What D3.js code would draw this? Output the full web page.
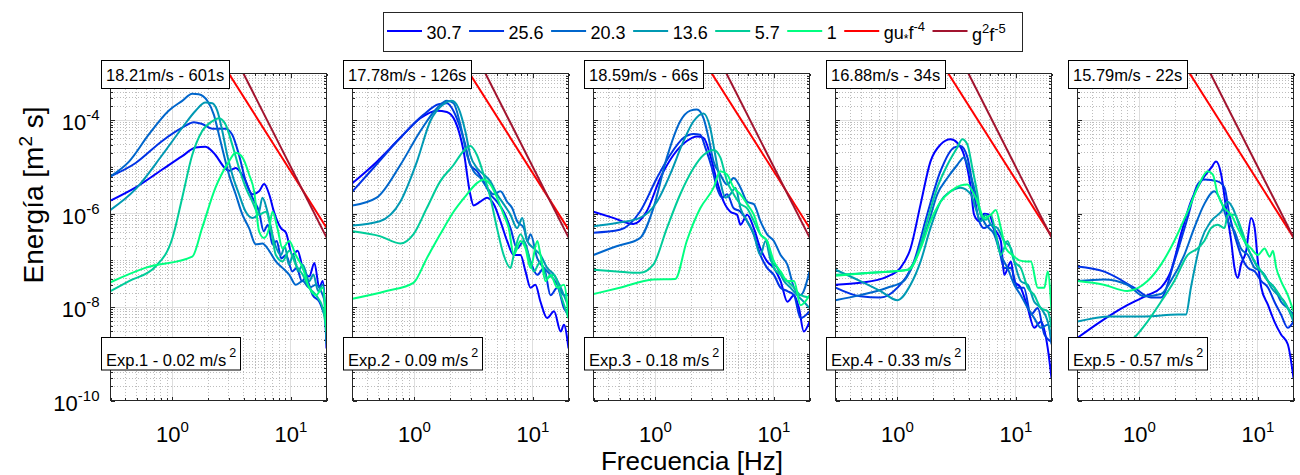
<!DOCTYPE html>
<html><head><meta charset="utf-8">
<script src="https://cdn.jsdelivr.net/npm/d3@7"></script>
<style>
body{margin:0;background:#fff}
svg{display:block}
text{font-family:"Liberation Sans",Arial,Helvetica,sans-serif;fill:#000}
</style>
</head><body>
<svg id="chart" width="1300" height="475"></svg>
<script>
// ---------------- DATA ----------------
const seriesLabels = ["30.7","25.6","20.3","13.6","5.7","1"];
const seriesColors = ["#0000ff","#0033e6","#0066cc","#0099b3","#00cc99","#00ff80"];
const panelTitles = ["18.21m/s - 601s","17.78m/s - 126s","18.59m/s - 66s","16.88m/s - 34s","15.79m/s - 22s"];
const expLabels = ["Exp.1 - 0.02 m/s","Exp.2 - 0.09 m/s","Exp.3 - 0.18 m/s","Exp.4 - 0.33 m/s","Exp.5 - 0.57 m/s"];
const xTickValues = [1, 10];
const xTickExps = ["0","1"];
const yTickValues = [1e-10, 1e-8, 1e-6, 1e-4];
const yTickExps = ["-10","-8","-6","-4"];
// reference lines [f, E] end points per panel
const redLineEnds = [
  [[2.5,2.05e-3],[20,5.0e-7]],
  [[2.5,1.87e-3],[20,4.6e-7]],
  [[2.5,2.05e-3],[20,5.0e-7]],
  [[2.5,1.34e-3],[20,3.3e-7]],
  [[2.5,1.28e-3],[20,3.1e-7]]
];
const darkRedLineEnds = [[3.0,4.1e-3],[20,3.1e-7]];

// Exp.1  [frequency Hz, energy m^2 s]
const e1_30_7 = [[0.30,1.9e-6],[0.486,3.6e-6],[0.82,8.8e-6],[1.21,1.7e-5],[1.57,2.6e-5],[1.90,2.7e-5],[2.31,1.8e-5],[2.72,1.0e-5],[3.0,8.3e-6],[3.42,9.5e-6],[4.03,5.8e-6],[4.74,2.6e-6],[5.39,3.0e-6],[5.95,4.3e-6],[6.56,2.6e-6],[7.2,1.1e-6],[8.25,4.9e-7],[9.1,3.9e-7],[10.3,1.3e-7],[11.4,1.6e-7],[12.6,6.9e-8],[14.3,4.5e-8],[15.8,8.8e-8],[17.4,2.6e-8],[18.6,3.6e-8],[20,1.3e-9]];
const e1_25_6 = [[0.30,6.3e-6],[0.486,1.2e-5],[0.82,3.6e-5],[1.21,6.9e-5],[1.52,9.1e-5],[1.78,8.3e-5],[2.17,6.6e-5],[2.81,6.6e-5],[3.2,4.9e-5],[3.65,1.8e-5],[4.16,4.9e-6],[4.74,2.2e-6],[5.39,1.1e-6],[5.9,4.2e-7],[6.4,5.8e-7],[7.0,2.2e-7],[7.6,2.6e-7],[8.3,1.1e-7],[9.1,1.3e-7],[10.3,5.8e-8],[11.2,6.9e-8],[12.4,3.6e-8],[13.4,4.2e-8],[15.3,1.8e-8],[17.4,1.3e-8],[20,4.9e-9]];
const e1_20_3 = [[0.30,6.3e-6],[0.43,1.3e-5],[0.63,4.9e-5],[0.93,1.6e-4],[1.21,2.6e-4],[1.47,3.7e-4],[1.67,3.6e-4],[1.97,2.6e-4],[2.24,1.3e-4],[2.47,4.9e-5],[2.72,1.8e-5],[3.0,6.9e-6],[3.42,2.6e-6],[3.9,9.5e-7],[4.44,4.9e-7],[5.05,2.2e-7],[5.75,2.3e-7],[6.56,1.6e-7],[7.47,9.5e-8],[8.5,6.9e-8],[9.7,4.9e-8],[11.0,3.0e-8],[12.6,3.6e-8],[14.3,2.6e-8],[16.3,3.0e-8],[18.6,1.8e-8],[20,1.0e-8]];
const e1_13_6 = [[0.30,1.2e-6],[0.486,3.3e-6],[0.82,1.8e-5],[1.21,6.9e-5],[1.57,1.6e-4],[1.90,2.4e-4],[2.17,2.3e-4],[2.39,1.6e-4],[2.64,5.8e-5],[2.9,1.8e-5],[3.2,6.9e-6],[3.65,2.6e-6],[4.16,1.1e-6],[4.74,8.1e-7],[5.39,1.1e-6],[5.75,2.2e-6],[6.35,1.1e-6],[7.2,2.6e-7],[8.25,1.3e-7],[8.9,2.0e-7],[9.6,8.1e-8],[10.5,1.3e-7],[11.5,5.8e-8],[12.6,8.1e-8],[14.3,3.6e-8],[15.5,5.0e-8],[17.0,2.2e-8],[18.6,3.0e-8],[20,1.6e-9]];
const e1_5_7 = [[0.30,2.2e-8],[0.43,3.6e-8],[0.72,7.4e-8],[1.0,3.0e-7],[1.21,2.2e-6],[1.47,1.8e-5],[1.78,5.8e-5],[2.17,9.5e-5],[2.47,1.1e-4],[2.81,8.1e-5],[3.2,3.0e-5],[3.65,9.5e-6],[4.16,3.6e-6],[4.74,1.8e-6],[5.39,9.5e-7],[6.15,1.1e-6],[6.77,4.9e-7],[7.47,1.3e-7],[8.5,9.5e-8],[9.7,1.6e-7],[11.0,8.1e-8],[12.6,4.9e-8],[14.3,2.6e-8],[16.3,1.8e-8],[18.6,9.5e-9],[20,3.0e-9]];
const e1_1 = [[0.30,3.4e-8],[0.59,6.9e-8],[1.47,1.2e-7],[1.78,4.9e-7],[2.31,3.6e-6],[3.0,1.3e-5],[3.42,2.0e-5],[3.9,1.6e-5],[4.44,6.9e-6],[4.9,3.0e-6],[5.39,4.2e-7],[5.95,3.0e-7],[6.56,4.9e-7],[7.0,1.1e-6],[7.7,4.9e-7],[8.5,1.8e-7],[9.7,2.6e-7],[11.0,1.3e-7],[12.6,6.9e-8],[14.3,2.6e-8],[16.3,1.8e-8],[18.6,2.6e-8],[20,3.0e-9]];

// Exp.2
const e2_30_7 = [[0.30,4.5e-6],[0.45,1.1e-5],[0.76,4.2e-5],[1.12,1.1e-4],[1.55,1.6e-4],[1.88,1.5e-4],[2.21,9.5e-5],[2.6,2.2e-5],[2.96,2.6e-6],[3.16,1.5e-6],[3.6,1.8e-6],[4.1,2.2e-6],[4.67,1.6e-6],[5.32,6.9e-7],[6.06,2.6e-7],[6.9,1.3e-7],[7.86,1.3e-7],[8.67,5.8e-8],[9.55,2.6e-8],[10.5,3.0e-8],[11.6,1.3e-8],[13.2,5.8e-9],[15.1,8.1e-9],[17.2,3.0e-9],[18.3,4.2e-9],[20,1.3e-9]];
const e2_25_6 = [[0.30,3.0e-6],[0.45,9.5e-6],[0.76,4.2e-5],[1.19,1.3e-4],[1.6,2.2e-4],[1.88,2.3e-4],[2.28,1.1e-4],[2.69,3.0e-5],[2.96,1.1e-5],[3.37,8.1e-6],[3.84,4.9e-6],[4.38,2.6e-6],[4.98,1.8e-6],[5.67,1.1e-6],[6.47,4.9e-7],[7.37,1.8e-7],[8.39,2.6e-7],[9.55,9.5e-8],[10.9,4.9e-8],[12.4,6.9e-8],[14.1,1.8e-8],[16.1,2.6e-8],[18.3,9.5e-9],[20,6.9e-9]];
const e2_20_3 = [[0.30,1.5e-6],[0.48,2.2e-6],[0.76,1.1e-5],[1.12,5.8e-5],[1.55,1.8e-4],[1.88,2.6e-4],[2.14,2.3e-4],[2.44,8.1e-5],[2.78,1.8e-5],[3.16,8.1e-6],[3.6,5.8e-6],[4.1,3.6e-6],[4.67,2.6e-6],[5.32,3.0e-6],[6.06,1.8e-6],[6.7,1.3e-6],[7.37,6.9e-7],[8.39,4.9e-7],[9.0,2.6e-7],[9.55,3.6e-7],[10.9,1.1e-7],[12.4,6.9e-8],[14.1,4.9e-8],[16.1,3.0e-8],[18.3,1.8e-8],[20,1.8e-8]];
const e2_13_6 = [[0.30,5.6e-7],[0.51,6.9e-7],[0.76,1.8e-6],[1.05,1.3e-5],[1.36,9.5e-5],[1.76,2.2e-4],[2.07,2.6e-4],[2.36,1.8e-4],[2.69,5.8e-5],[2.96,1.8e-5],[3.37,9.5e-6],[3.84,6.9e-6],[4.38,4.9e-6],[4.98,2.6e-6],[5.67,1.6e-6],[6.47,9.5e-7],[7.37,4.9e-7],[8.14,8.1e-7],[8.96,2.6e-7],[10.2,1.8e-7],[11.6,1.3e-7],[13.2,6.9e-8],[15.1,4.9e-8],[17.2,2.6e-8],[20,1.0e-8]];
const e2_5_7 = [[0.30,4.2e-7],[0.51,3.3e-7],[0.76,2.3e-7],[0.98,3.6e-7],[1.27,1.3e-6],[1.65,4.9e-6],[2.14,1.1e-5],[2.6,2.2e-5],[2.96,2.8e-5],[3.37,1.8e-5],[3.84,6.9e-6],[4.38,2.2e-6],[4.98,4.9e-7],[5.67,1.3e-7],[6.47,6.9e-8],[6.9,1.3e-7],[7.86,3.6e-7],[8.96,1.6e-7],[10.2,5.8e-8],[11.6,9.5e-8],[13.2,4.2e-8],[15.1,4.9e-8],[17.2,1.8e-8],[20,5.8e-9]];
const e2_1 = [[0.30,1.5e-8],[0.58,2.2e-8],[0.98,3.3e-8],[1.27,1.1e-7],[1.65,3.6e-7],[2.14,1.1e-6],[2.78,2.6e-6],[3.37,4.5e-6],[3.84,5.4e-6],[4.38,4.2e-6],[4.98,2.2e-6],[5.67,9.5e-7],[6.26,4.9e-7],[6.9,1.3e-7],[7.86,2.6e-7],[8.67,1.8e-7],[9.55,6.9e-8],[10.9,2.6e-7],[11.6,1.3e-7],[12.8,3.6e-8],[14.1,4.9e-8],[16.1,2.6e-8],[18.3,3.0e-8],[20,5.8e-9]];

// Exp.3
const e3_30_7 = [[0.30,1.1e-6],[0.44,8.1e-7],[0.65,6.0e-7],[0.84,1.1e-6],[1.1,5.8e-6],[1.42,1.8e-5],[1.84,3.6e-5],[2.24,4.5e-5],[2.55,4.2e-5],[2.9,1.8e-5],[3.31,4.9e-6],[3.77,1.8e-6],[4.29,1.1e-6],[4.89,9.5e-7],[5.23,5.8e-7],[5.95,9.5e-7],[6.77,4.9e-7],[7.7,1.8e-7],[8.77,9.5e-8],[10.0,6.9e-8],[11.4,3.6e-8],[13.0,1.3e-8],[14.8,1.8e-8],[16.3,9.5e-9],[17.9,3.0e-9],[20,4.9e-9]];
const e3_25_6 = [[0.30,3.9e-7],[0.50,4.5e-7],[0.74,1.1e-6],[1.03,5.8e-6],[1.33,1.8e-5],[1.73,4.2e-5],[2.1,5.1e-5],[2.39,4.9e-5],[2.64,2.6e-5],[3.0,9.5e-6],[3.31,3.6e-6],[3.65,2.2e-6],[4.03,2.6e-6],[4.58,1.3e-6],[5.23,1.1e-6],[5.95,6.9e-7],[6.77,3.6e-7],[7.7,1.3e-7],[8.77,6.9e-8],[10.0,4.9e-8],[11.4,2.6e-8],[13.0,2.2e-8],[14.8,1.8e-8],[16.8,5.8e-9],[20,8.1e-9]];
const e3_20_3 = [[0.30,1.3e-7],[0.47,2.0e-7],[0.74,3.0e-7],[0.96,1.3e-6],[1.25,1.6e-5],[1.62,9.5e-5],[1.97,1.6e-4],[2.24,1.7e-4],[2.55,1.1e-4],[2.81,4.2e-5],[3.1,1.3e-5],[3.53,6.9e-6],[4.03,4.2e-6],[4.58,5.8e-6],[5.23,3.6e-6],[5.95,1.8e-6],[6.77,1.6e-6],[7.7,6.9e-7],[8.77,3.6e-7],[10.0,2.6e-7],[11.4,1.3e-7],[13.0,8.1e-8],[14.8,2.6e-8],[16.8,1.8e-8],[20,5.8e-8]];
const e3_13_6 = [[0.30,5.4e-7],[0.47,6.3e-7],[0.74,8.1e-7],[1.03,1.8e-6],[1.33,6.9e-6],[1.73,3.6e-5],[2.1,9.5e-5],[2.55,1.4e-4],[2.9,6.9e-5],[3.2,1.8e-5],[3.53,4.9e-6],[3.9,2.2e-6],[4.29,2.6e-6],[4.74,3.6e-6],[5.23,1.3e-6],[5.95,6.9e-7],[6.77,3.6e-7],[7.7,1.3e-7],[8.5,2.6e-7],[9.4,1.0e-7],[10.7,6.9e-8],[12.2,3.6e-8],[13.8,2.6e-8],[15.7,1.8e-8],[17.9,1.3e-8],[20,9.5e-9]];
const e3_5_7 = [[0.30,6.3e-8],[0.47,5.8e-8],[0.74,5.4e-8],[0.96,8.1e-8],[1.25,4.9e-7],[1.62,2.6e-6],[2.1,9.5e-6],[2.55,1.8e-5],[3.1,2.3e-5],[3.53,1.6e-5],[4.03,4.9e-6],[4.58,2.6e-6],[5.23,1.6e-6],[5.95,1.3e-6],[6.77,6.9e-7],[7.7,3.6e-7],[8.77,2.6e-7],[10.0,6.9e-8],[11.4,4.9e-8],[13.0,3.6e-8],[14.8,2.6e-8],[16.8,1.8e-8],[20,1.6e-8]];
const e3_1 = [[0.30,1.9e-8],[0.50,2.6e-8],[0.96,3.9e-8],[1.47,4.0e-8],[1.84,2.6e-7],[2.39,1.3e-6],[3.1,3.6e-6],[3.53,8.1e-6],[4.03,6.9e-6],[4.58,3.6e-6],[5.23,2.6e-6],[5.95,1.6e-6],[6.77,9.5e-7],[7.7,3.6e-7],[8.77,2.6e-7],[10.0,9.5e-8],[11.4,5.8e-8],[13.0,3.6e-8],[14.8,3.6e-8],[16.8,1.1e-8],[20,1.8e-8]];

// Exp.4
const e4_30_7 = [[0.30,3.0e-8],[0.486,3.3e-8],[0.82,4.5e-8],[1.06,6.9e-8],[1.29,1.8e-7],[1.57,1.6e-6],[1.9,1.3e-5],[2.31,3.0e-5],[2.81,3.9e-5],[3.2,3.3e-5],[3.65,1.8e-5],[4.16,3.6e-6],[4.44,9.5e-7],[4.9,6.9e-7],[5.39,1.0e-6],[5.95,9.5e-7],[6.56,4.9e-7],[7.47,2.6e-7],[7.97,4.9e-8],[9.1,9.5e-8],[9.7,3.6e-8],[11.0,2.6e-8],[12.6,9.5e-9],[14.3,3.6e-9],[16.3,4.9e-9],[18.6,1.3e-9],[20,3.0e-10]];
const e4_25_6 = [[0.30,2.6e-8],[0.486,1.7e-8],[0.72,1.6e-8],[1.0,2.6e-8],[1.38,9.5e-8],[1.78,9.5e-7],[2.31,8.1e-6],[3.0,2.6e-5],[3.42,2.8e-5],[3.9,1.6e-5],[4.44,2.6e-6],[4.9,6.9e-7],[5.39,4.9e-7],[6.15,5.8e-7],[7.0,2.6e-7],[7.97,6.9e-8],[9.1,6.9e-8],[10.3,2.6e-8],[11.7,2.6e-8],[13.4,6.9e-9],[15.3,9.5e-9],[17.4,2.6e-9],[20,1.8e-9]];
const e4_20_3 = [[0.30,1.4e-8],[0.486,1.8e-8],[0.82,2.6e-8],[1.13,3.6e-8],[1.47,1.3e-7],[1.78,4.9e-7],[2.17,2.6e-6],[2.64,5.8e-6],[3.2,1.1e-5],[3.65,1.6e-5],[3.9,1.1e-5],[4.44,3.6e-6],[5.05,9.5e-7],[5.57,5.8e-7],[6.56,3.6e-7],[7.47,1.3e-7],[8.5,6.9e-8],[9.7,3.0e-8],[11.0,1.8e-8],[12.6,9.5e-9],[14.3,5.8e-9],[16.3,3.6e-9],[18.6,4.2e-9],[20,1.6e-9]];
const e4_13_6 = [[0.30,6.3e-8],[0.486,3.6e-8],[0.72,2.2e-8],[1.0,1.4e-8],[1.29,3.0e-8],[1.57,9.5e-8],[1.9,4.9e-7],[2.31,1.8e-6],[2.81,3.0e-6],[3.42,3.6e-6],[4.16,2.6e-6],[4.58,1.3e-6],[5.05,6.9e-7],[5.57,9.5e-7],[6.15,5.8e-7],[7.0,4.9e-7],[7.97,2.6e-7],[9.1,1.8e-7],[9.7,9.5e-8],[11.0,3.6e-8],[12.6,3.0e-8],[14.3,1.3e-8],[16.3,9.5e-9],[18.6,4.9e-9],[20,2.2e-9]];
const e4_5_7 = [[0.30,4.9e-8],[0.59,5.4e-8],[1.21,6.3e-8],[1.47,1.3e-7],[1.78,6.9e-7],[2.17,3.6e-6],[2.64,1.1e-5],[3.2,2.6e-5],[3.53,3.9e-5],[3.9,3.0e-5],[4.29,9.5e-6],[4.74,2.6e-6],[5.05,9.5e-7],[5.57,7.4e-7],[6.15,9.5e-7],[6.77,3.6e-7],[7.47,1.3e-7],[8.5,2.6e-7],[9.7,9.5e-8],[11.0,6.9e-8],[12.6,2.6e-8],[14.3,1.8e-8],[16.3,9.5e-9],[18.6,8.1e-9],[20,3.6e-9]];
const e4_1 = [[0.30,4.7e-8],[0.59,5.4e-8],[1.25,6.3e-8],[1.57,1.8e-7],[1.9,6.9e-7],[2.31,1.8e-6],[2.81,3.0e-6],[3.42,4.0e-6],[3.9,4.2e-6],[4.29,3.0e-6],[4.74,1.8e-6],[5.39,8.1e-7],[6.15,9.5e-7],[6.77,1.2e-6],[7.47,4.9e-7],[8.25,1.8e-7],[9.4,1.3e-7],[10.7,1.0e-7],[12.2,9.5e-8],[13.4,9.5e-8],[15.3,2.6e-8],[17.4,2.6e-8],[18.6,5.8e-8],[20,8.1e-9]];

// Exp.5
const e5_30_7 = [[0.30,2.2e-9],[0.47,4.9e-9],[0.79,1.1e-8],[1.17,1.8e-8],[1.52,2.6e-8],[1.84,5.8e-8],[2.24,3.6e-7],[2.72,1.8e-6],[3.31,4.9e-6],[4.03,9.5e-6],[4.44,1.3e-5],[4.9,6.9e-6],[5.39,1.3e-6],[5.95,2.6e-7],[6.35,6.9e-8],[6.77,4.2e-8],[7.2,8.1e-8],[7.97,1.6e-7],[8.77,8.1e-7],[9.4,4.9e-7],[10.0,9.5e-8],[10.7,2.6e-8],[12.2,1.1e-8],[13.8,4.9e-9],[15.7,2.6e-9],[17.9,1.6e-9],[20,3.0e-10]];
const e5_25_6 = [[0.30,7.4e-8],[0.50,5.8e-8],[0.90,2.6e-8],[1.25,1.6e-8],[1.52,1.6e-8],[1.97,9.5e-8],[2.55,8.1e-7],[3.1,4.2e-6],[3.53,5.4e-6],[4.58,4.9e-6],[5.23,3.6e-6],[5.75,9.5e-7],[6.35,3.6e-7],[7.2,1.3e-7],[8.25,6.9e-8],[9.4,5.8e-8],[10.7,3.6e-8],[12.2,2.6e-8],[13.8,1.3e-8],[15.7,6.9e-9],[17.9,3.6e-9],[20,4.9e-9]];
const e5_20_3 = [[0.30,3.6e-8],[0.50,3.9e-8],[0.79,3.0e-8],[1.1,1.7e-8],[1.52,1.9e-8],[1.84,3.6e-8],[2.39,1.3e-7],[2.9,4.9e-7],[3.53,1.6e-6],[4.29,3.0e-6],[4.9,1.8e-6],[5.57,6.9e-7],[6.35,4.2e-7],[7.2,1.8e-7],[8.25,1.3e-7],[9.4,6.9e-8],[10.7,5.8e-8],[12.2,3.6e-8],[13.8,2.6e-8],[15.7,1.3e-8],[17.9,9.5e-9],[20,6.9e-9]];
const e5_13_6 = [[0.30,4.9e-9],[0.57,6.3e-9],[1.1,6.3e-9],[2.1,6.9e-9],[2.47,6.9e-9],[2.72,2.6e-8],[3.31,2.6e-7],[4.03,6.9e-7],[4.9,1.1e-6],[5.57,1.8e-6],[6.15,1.3e-6],[6.77,6.9e-7],[7.7,2.6e-7],[8.77,1.3e-7],[10.0,6.9e-8],[11.4,4.9e-8],[13.0,2.6e-8],[14.8,1.8e-8],[16.8,1.3e-8],[20,4.9e-9]];
const e5_5_7 = [[0.30,7.0e-10],[0.57,1.2e-9],[0.90,2.2e-9],[1.17,4.9e-9],[1.52,1.3e-8],[1.97,3.6e-8],[2.55,1.3e-7],[3.1,1.8e-7],[3.53,2.6e-7],[4.03,4.9e-7],[4.58,5.8e-7],[5.23,4.9e-7],[5.57,9.5e-7],[6.35,9.5e-7],[7.2,4.9e-7],[8.25,1.8e-7],[9.4,9.5e-8],[10.7,5.8e-8],[12.2,3.6e-8],[13.8,2.6e-8],[15.7,1.6e-8],[17.9,9.5e-9],[20,5.8e-9]];
const e5_1 = [[0.30,3.6e-8],[0.50,3.0e-8],[0.79,2.2e-8],[1.17,3.6e-8],[1.52,8.1e-8],[1.97,2.6e-7],[2.55,1.1e-6],[3.1,3.6e-6],[3.77,8.1e-6],[4.16,6.9e-6],[4.58,2.6e-6],[5.23,1.3e-6],[5.95,9.5e-7],[6.77,4.9e-7],[7.7,2.6e-7],[8.77,1.8e-7],[10.0,1.3e-7],[11.4,1.8e-7],[12.6,1.2e-7],[13.4,1.6e-7],[14.3,6.9e-8],[15.7,3.6e-8],[17.9,1.8e-8],[20,8.1e-9]];

const panelSeries = [
  [e1_30_7,e1_25_6,e1_20_3,e1_13_6,e1_5_7,e1_1],
  [e2_30_7,e2_25_6,e2_20_3,e2_13_6,e2_5_7,e2_1],
  [e3_30_7,e3_25_6,e3_20_3,e3_13_6,e3_5_7,e3_1],
  [e4_30_7,e4_25_6,e4_20_3,e4_13_6,e4_5_7,e4_1],
  [e5_30_7,e5_25_6,e5_20_3,e5_13_6,e5_5_7,e5_1]
];

// ---------------- LAYOUT ----------------
const svg = d3.select("#chart");
const PW = 216, PT = 73, PB = 400, PH = PB - PT;
const panelLefts = [110, 352, 593, 835, 1077];
const RED = "#ff0000", DARKRED = "#a2142f", AX = "#262626";

const x = d3.scaleLog().domain([0.3, 20]).range([0, PW]);
const y = d3.scaleLog().domain([1e-10, 1e-3]).range([PH, 0]);

// minor tick positions
const xMinor = [];
[0.1, 1, 10].forEach(b => { for (let m = 2; m <= 9; m++) { const v = +(m*b).toPrecision(3); if (v >= 0.3 && v <= 20) xMinor.push(v); } });
xMinor.push(20);
const yMinor = [];
for (let k = -10; k <= -4; k++) { for (let m = 1; m <= 9; m++) { if (m === 1 && k % 2 === 0) continue; const v = m * Math.pow(10, k); if (v <= 1e-3) yMinor.push(v); } }

const line = d3.line().x(d => x(d[0])).y(d => y(d[1])).curve(d3.curveMonotoneX);
const straight = d3.line().x(d => x(d[0])).y(d => y(d[1]));

const defs = svg.append("defs");

panelLefts.forEach((left, i) => {
  const g = svg.append("g").attr("transform", `translate(${left + 0.5},${PT + 0.5})`);
  defs.append("clipPath").attr("id", "clip" + i).append("rect").attr("x", 0).attr("y", 0).attr("width", PW).attr("height", PH);

  // grid minor (dotted)
  const grid = g.append("g").attr("shape-rendering", "crispEdges");
  grid.selectAll(".gxm").data(xMinor).join("line")
    .attr("x1", d => Math.round(x(d))).attr("x2", d => Math.round(x(d))).attr("y1", 0).attr("y2", PH)
    .attr("stroke", "#bdbdbd").attr("stroke-dasharray", "1,2");
  grid.selectAll(".gym").data(yMinor).join("line")
    .attr("y1", d => Math.round(y(d))).attr("y2", d => Math.round(y(d))).attr("x1", 0).attr("x2", PW)
    .attr("stroke", "#bdbdbd").attr("stroke-dasharray", "1,2");
  // grid major
  grid.selectAll(".gx").data(xTickValues).join("line")
    .attr("x1", d => Math.round(x(d))).attr("x2", d => Math.round(x(d))).attr("y1", 0).attr("y2", PH)
    .attr("stroke", "#dedede");
  grid.selectAll(".gy").data(yTickValues).join("line")
    .attr("y1", d => Math.round(y(d))).attr("y2", d => Math.round(y(d))).attr("x1", 0).attr("x2", PW)
    .attr("stroke", "#dedede");

  // axes ticks (inward) with d3 axes
  const mkAxis = (ax, vals, size) => ax.tickValues(vals).tickSize(size).tickFormat("");
  const axes = g.append("g").attr("shape-rendering", "crispEdges");
  const addAx = (gen, tr) => {
    const a = axes.append("g").attr("transform", tr).call(gen);
    a.select(".domain").remove();
    a.selectAll("line").attr("stroke", AX);
  };
  addAx(mkAxis(d3.axisBottom(x), xTickValues, -4), `translate(0,${PH})`);
  addAx(mkAxis(d3.axisBottom(x), xMinor, -2.5), `translate(0,${PH})`);
  addAx(mkAxis(d3.axisTop(x), xTickValues, -4), `translate(0,0)`);
  addAx(mkAxis(d3.axisTop(x), xMinor, -2.5), `translate(0,0)`);
  addAx(mkAxis(d3.axisLeft(y), yTickValues, -4), `translate(0,0)`);
  addAx(mkAxis(d3.axisLeft(y), yMinor, -2.5), `translate(0,0)`);
  addAx(mkAxis(d3.axisRight(y), yTickValues, -4), `translate(${PW},0)`);
  addAx(mkAxis(d3.axisRight(y), yMinor, -2.5), `translate(${PW},0)`);

  // data lines
  const plot = g.append("g").attr("clip-path", `url(#clip${i})`);
  panelSeries[i].forEach((s, j) => {
    plot.append("path").datum(s).attr("d", line).attr("fill", "none")
      .attr("stroke", seriesColors[j]).attr("stroke-width", 2).attr("stroke-linejoin", "round");
  });
  plot.append("path").datum(redLineEnds[i]).attr("d", straight).attr("fill", "none").attr("stroke", RED).attr("stroke-width", 2);
  plot.append("path").datum(darkRedLineEnds).attr("d", straight).attr("fill", "none").attr("stroke", DARKRED).attr("stroke-width", 2);

  // box
  g.append("rect").attr("x", 0).attr("y", 0).attr("width", PW).attr("height", PH)
    .attr("fill", "none").attr("stroke", AX).attr("stroke-width", 1).attr("shape-rendering", "crispEdges");

  // x tick labels
  xTickValues.forEach((v, k) => {
    const t = g.append("text").attr("x", x(v)).attr("y", PH + 41).attr("text-anchor", "middle").attr("font-size", 22);
    t.append("tspan").text("10");
    t.append("tspan").attr("dy", -10).attr("font-size", 15).text(xTickExps[k]);
  });
  // y tick labels (first panel only)
  if (i === 0) {
    yTickValues.forEach((v, k) => {
      const t = g.append("text").attr("x", -11).attr("y", y(v) + 10).attr("text-anchor", "end").attr("font-size", 22);
      t.append("tspan").text("10");
      t.append("tspan").attr("dy", -10).attr("font-size", 15).text(yTickExps[k]);
    });
  }

  // title box (top-left)
  const tb = svg.append("g");
  const tt = tb.append("text").attr("x", left - 4).attr("y", 81).attr("font-size", 16.5).text(panelTitles[i]);
  const tw = tt.node().getComputedTextLength();
  tb.insert("rect", "text").attr("x", left - 8.5).attr("y", 60.5).attr("width", Math.round(tw + 10)).attr("height", 28)
    .attr("fill", "#fff").attr("stroke", "#000").attr("stroke-width", 1);
  // experiment box (bottom-left)
  const eb = svg.append("g");
  const et = eb.append("text").attr("x", left - 4).attr("y", 365.5).attr("font-size", 16.5);
  et.append("tspan").text(expLabels[i]);
  et.append("tspan").attr("dx", 3).attr("dy", -9).attr("font-size", 12.5).text("2");
  const ew = et.node().getBBox().width;
  eb.insert("rect", "text").attr("x", left - 8.5).attr("y", 337.5).attr("width", Math.round(ew + 9)).attr("height", 32.5)
    .attr("fill", "#fff").attr("stroke", "#000").attr("stroke-width", 1);
});

// axis labels
const yl = svg.append("text").attr("transform", "translate(43,195) rotate(-90)").attr("text-anchor", "middle").attr("font-size", 28);
yl.append("tspan").text("Energía [m");
yl.append("tspan").attr("dy", -11).attr("font-size", 19).text("2");
yl.append("tspan").attr("dy", 11).text(" s]");
svg.append("text").attr("x", 692).attr("y", 469.5).attr("text-anchor", "middle").attr("font-size", 26).text("Frecuencia [Hz]");

// legend
const lg = svg.append("g");
lg.append("rect").attr("x", 383.5).attr("y", 12.5).attr("width", 639).attr("height", 39)
  .attr("fill", "#fff").attr("stroke", AX).attr("stroke-width", 1);
let cx = 387;
const legendItems = seriesLabels.map((l, j) => ({ type: "plain", label: l, color: seriesColors[j] }))
  .concat([{ type: "gu", color: RED }, { type: "g2", color: DARKRED }]);
legendItems.forEach(it => {
  lg.append("line").attr("x1", cx).attr("x2", cx + 35).attr("y1", 31).attr("y2", 31).attr("stroke", it.color).attr("stroke-width", 2);
  cx += 39.5;
  const t = lg.append("text").attr("x", cx).attr("y", 38.5).attr("font-size", 18);
  if (it.type === "plain") {
    t.text(it.label);
  } else if (it.type === "gu") {
    t.append("tspan").text("gu");
    t.append("tspan").attr("dy", 4).attr("font-size", 12).text("*");
    t.append("tspan").attr("dy", -4).text("f");
    t.append("tspan").attr("dy", -8).attr("font-size", 13).text("-4");
  } else {
    t.attr("y", 40.5);
    t.append("tspan").text("g");
    t.append("tspan").attr("dy", -8).attr("font-size", 13).text("2");
    t.append("tspan").attr("dy", 8).text("f");
    t.append("tspan").attr("dy", -8).attr("font-size", 13).text("-5");
  }
  cx += t.node().getBBox().width + 7.5;
});
</script>
</body></html>
